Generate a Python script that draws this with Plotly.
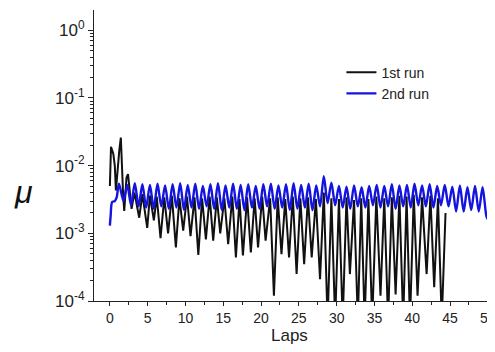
import plotly.graph_objects as go

# ---- data ----
run1_laps = [0.0, 0.15, 0.45, 0.65, 0.8, 0.95, 1.1, 1.25, 1.45, 1.6, 1.75, 1.9, 2.2, 2.4, 2.65, 2.87,
             3.25, 3.88, 4.3, 4.94, 5.3, 5.82, 6.2, 6.7, 7.2, 7.7, 8.2, 8.73, 9.2, 9.7,
             10.2, 10.67, 11.2, 11.7, 12.2, 12.7, 13.2, 13.67, 14.15, 14.6, 15.15, 15.65,
             16.2, 16.67, 17.15, 17.6, 18.15, 18.65, 19.15, 19.6, 20.15, 20.6, 21.2, 21.7,
             22.2, 22.7, 23.2, 23.7, 24.2, 24.7, 25.2, 25.7, 26.2, 26.7, 27.25, 27.8,
             28.3, 28.8, 29.3, 29.8, 30.3, 30.8, 31.3, 31.75, 32.3, 32.8, 33.25, 33.7,
             34.2, 34.7, 35.25, 35.8, 36.3, 36.8, 37.3, 37.8, 38.3, 38.8, 39.25, 39.7,
             40.2, 40.7, 41.3, 41.9, 42.4, 42.9, 43.4, 43.9, 44.4]
run1_mu_milli = [5.0, 19, 15, 10, 4.3, 7.5, 11, 17, 26, 7.5, 3.8, 2.15, 6.7, 7.5, 4.3, 2.3,
                 4.0, 1.7, 3.8, 1.2, 3.6, 1.55, 3.5, 0.85, 3.4, 1.0, 3.6, 0.62, 3.3, 1.1,
                 3.5, 0.91, 3.4, 0.48, 3.3, 0.81, 3.5, 0.78, 3.4, 1.0, 3.3, 0.69,
                 3.5, 0.44, 3.2, 0.47, 3.4, 0.52, 3.3, 0.62, 3.5, 0.78, 3.3, 0.12,
                 3.4, 0.49, 3.2, 0.44, 3.5, 0.25, 3.3, 0.35, 3.4, 0.44, 3.2, 0.21,
                 4.0, 0.05, 3.3, 0.05, 3.2, 0.05, 3.4, 0.25, 3.1, 0.05, 3.3, 0.05,
                 3.2, 0.05, 3.5, 0.12, 3.3, 0.05, 3.4, 0.125, 3.6, 0.05, 3.5, 0.05,
                 3.7, 0.12, 3.4, 0.25, 3.6, 0.16, 3.3, 0.05, 2.0]

run2_laps = [0.0, 0.1, 0.3, 0.65, 0.9,
             1.2, 1.8, 2.3, 2.8, 3.3, 3.8, 4.3, 4.8, 5.3, 5.8, 6.3, 6.8, 7.3, 7.8, 8.3, 8.8,
             9.3, 9.8, 10.3, 10.8, 11.3, 11.8, 12.3, 12.8, 13.3, 13.8, 14.3, 14.8, 15.3, 15.8,
             16.3, 16.8, 17.3, 17.8, 18.3, 18.8, 19.3, 19.8, 20.3, 20.8, 21.3, 21.8, 22.3, 22.8,
             23.3, 23.8, 24.3, 24.8, 25.3, 25.8, 26.3, 26.8, 27.3, 27.8, 28.3, 28.8, 29.3, 29.8,
             30.3, 30.8, 31.3, 31.8, 32.3, 32.8, 33.3, 33.8, 34.3, 34.8, 35.3, 35.8, 36.3, 36.8,
             37.3, 37.8, 38.3, 38.8, 39.3, 39.8, 40.3, 40.8, 41.3, 41.8, 42.3, 42.8, 43.3, 43.8,
             44.3, 44.8, 45.3, 45.8, 46.3, 46.8, 47.3, 47.8, 48.3, 48.8, 49.3, 49.8, 50.0]
run2_mu_milli = [1.3, 1.8, 2.9, 3.0, 3.4,
                 5.4, 3.0, 5.2, 2.6, 5.5, 2.5, 5.3, 2.4, 5.2, 2.3, 5.4, 2.5, 5.1, 2.3, 5.3, 2.4,
                 5.5, 2.2, 5.2, 2.4, 5.4, 2.3, 5.0, 2.5, 5.3, 2.3, 5.5, 2.2, 5.1, 2.4,
                 5.4, 2.3, 5.2, 2.2, 5.3, 2.4, 5.0, 2.3, 5.3, 2.5, 5.4, 2.3, 5.1, 2.4,
                 5.3, 2.2, 5.5, 2.3, 5.2, 2.4, 5.4, 2.2, 5.1, 2.5, 7.0, 2.8, 5.6, 2.6,
                 5.0, 2.4, 4.9, 2.3, 5.1, 2.5, 4.8, 2.4, 5.0, 2.6, 5.2, 2.4, 5.0, 2.5,
                 5.3, 2.3, 5.1, 2.5, 5.2, 2.4, 5.4, 2.6, 5.1, 2.5, 5.3, 2.4, 5.0, 2.6,
                 5.2, 2.5, 4.9, 2.1, 5.1, 2.1, 4.8, 2.2, 5.0, 2.1, 4.8, 1.8, 1.6]

series_names = ["1st run", "2nd run"]
y_tick_vals = [1e-4, 1e-3, 1e-2, 1e-1, 1e0]
y_tick_text = ["10<sup>-4</sup>", "10<sup>-3</sup>", "10<sup>-2</sup>", "10<sup>-1</sup>", "10<sup>0</sup>"]
y_minor_vals = [m * d for d in [1e-4, 1e-3, 1e-2, 1e-1, 1e0] for m in range(2, 10)]
x_tick_vals = [0, 5, 10, 15, 20, 25, 30, 35, 40, 45, 50]
x_minor_vals = [-2.5 + 5 * k for k in range(11)]

run1_mu = [v * 1e-3 for v in run1_mu_milli]
run2_mu = [v * 1e-3 for v in run2_mu_milli]

FONT = "Liberation Sans, Arial, sans-serif"
AX = "#222222"

fig = go.Figure()
fig.add_trace(go.Scatter(x=run1_laps, y=run1_mu, mode="lines", name=series_names[0],
                         line=dict(color="#111111", width=2)))
fig.add_trace(go.Scatter(x=run2_laps, y=run2_mu, mode="lines", name=series_names[1],
                         line=dict(color="#1414e0", width=2.4, shape="spline", smoothing=0.8)))

# the page adds an 8px body margin, so the figure is 8px smaller than the window
fig.update_layout(
    width=487, height=344,
    margin=dict(l=86, r=7, t=2, b=51, autoexpand=False),
    paper_bgcolor="white", plot_bgcolor="white",
    font=dict(family=FONT, size=15, color=AX),
    showlegend=True,
    legend=dict(x=0.628, y=0.84, xanchor="left", yanchor="top",
                bgcolor="rgba(0,0,0,0)", borderwidth=0,
                font=dict(family=FONT, size=14, color=AX),
                tracegroupgap=0, itemwidth=30),
)
fig.update_xaxes(
    automargin=False, ticklabeloverflow="allow",
    range=[-2.1, 50.02], tickmode="array", tickvals=x_tick_vals, showgrid=False, zeroline=False,
    showline=True, linecolor=AX, linewidth=1.2,
    ticks="outside", ticklen=4, tickwidth=1.2, tickcolor=AX,
    minor=dict(ticks="outside", ticklen=3, tickwidth=1, tickcolor=AX,
               tickmode="array", tickvals=x_minor_vals, showgrid=False),
    tickfont=dict(size=14, color=AX),
)
fig.update_yaxes(
    automargin=False,
    type="log", range=[-4, 0.3], tickmode="array", tickvals=y_tick_vals, ticktext=y_tick_text,
    showgrid=False, zeroline=False,
    showline=True, linecolor=AX, linewidth=1.2,
    ticks="outside", ticklen=5, tickwidth=1.2, tickcolor=AX,
    minor=dict(ticks="outside", ticklen=3, tickwidth=1, tickcolor=AX,
               tickmode="array", tickvals=y_minor_vals, showgrid=False),
    tickfont=dict(size=17, color=AX),
)

fig.add_annotation(text="<i>μ</i>", xref="paper", yref="paper", x=-0.18, y=0.375,
                   xanchor="center", yanchor="middle", showarrow=False,
                   font=dict(family=FONT, size=32, color="#111111"))
fig.add_annotation(text="Laps", xref="paper", yref="paper", x=0.497, y=-0.078,
                   xanchor="center", yanchor="top", showarrow=False,
                   font=dict(family=FONT, size=17, color=AX))

fig.write_html("out.html")
